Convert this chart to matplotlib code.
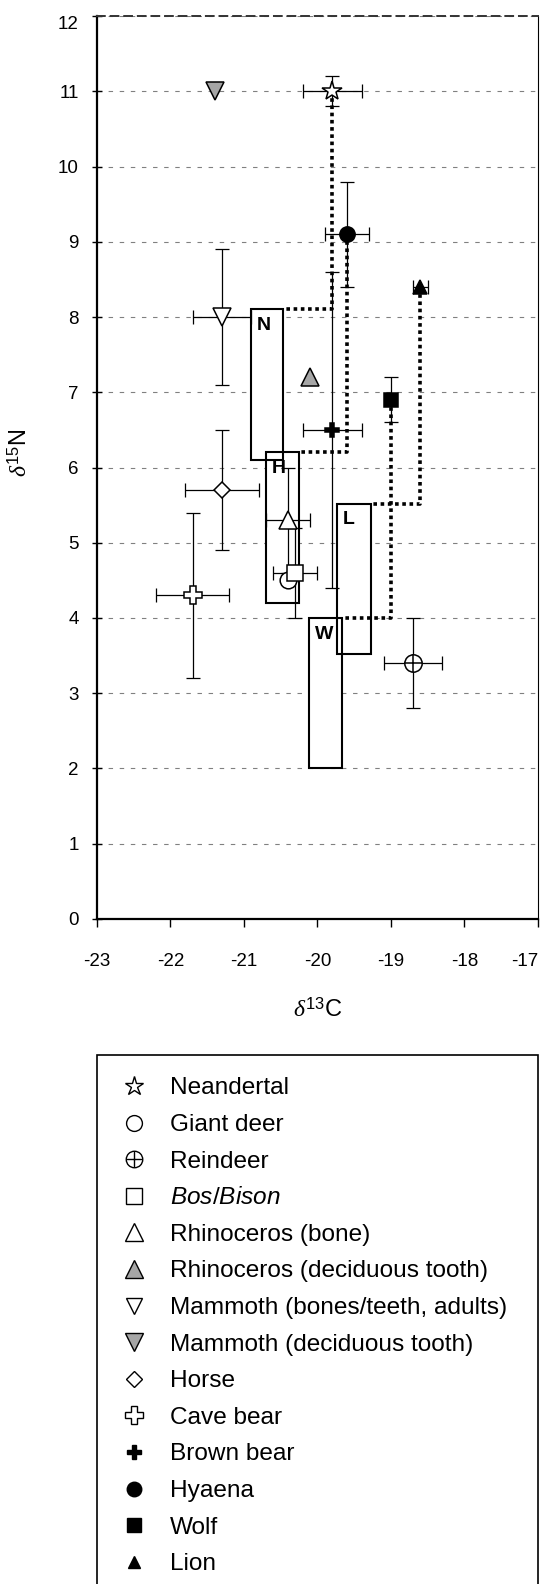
import numpy as np
import matplotlib
matplotlib.use('Agg')
import matplotlib.pyplot as plt
from matplotlib.patches import Rectangle
from matplotlib.lines import Line2D

plt.rcParams['font.family'] = ['Liberation Sans', 'DejaVu Sans']
plt.rcParams['axes.unicode_minus'] = False
plt.rcParams['mathtext.fontset'] = 'custom'
plt.rcParams['mathtext.it'] = 'Liberation Serif:italic'
plt.rcParams['mathtext.rm'] = 'Liberation Sans'
plt.rcParams['mathtext.sf'] = 'Liberation Sans:italic'

# species means and 1 sd
species = ['Neandertal', 'Giant deer', 'Reindeer', 'Bos/Bison', 'Rhinoceros (bone)',
           'Rhinoceros (deciduous tooth)', 'Mammoth (bones/teeth, adults)',
           'Mammoth (deciduous tooth)', 'Horse', 'Cave bear', 'Brown bear',
           'Hyaena', 'Wolf', 'Lion']
d13c = [-19.8, -20.4, -18.7, -20.3, -20.4, -20.1, -21.3, -21.4, -21.3, -21.7, -19.8, -19.6, -19.0, -18.6]
d15n = [11.0, 4.5, 3.4, 4.6, 5.3, 7.2, 8.0, 11.0, 5.7, 4.3, 6.5, 9.1, 6.9, 8.4]
c_err = [0.4, 0, 0.4, 0.3, 0.3, 0, 0.4, 0, 0.5, 0.5, 0.4, 0.3, 0, 0.1]
n_err = [0.2, 0, 0.6, 0.6, 0.7, 0, 0.9, 0, 0.8, 1.1, 2.1, 0.7, 0.3, 0]

# expected prey ranges for the predators
box_labels = ['N', 'H', 'L', 'W']
box_pred = ['Neandertal', 'Hyaena', 'Lion', 'Wolf']
box_x0 = [-20.91, -20.70, -19.73, -20.12]
box_x1 = [-20.47, -20.25, -19.27, -19.67]
box_y0 = [6.1, 4.2, 3.52, 2.0]
box_y1 = [8.1, 6.2, 5.52, 4.0]

legend_labels = list(species)
legend_labels[3] = r'$\mathsf{Bos}$/$\mathsf{Bison}$'

grey = '#a6a6a6'
styles = {
    'Neandertal': dict(marker='*', ms=14.5, mfc='white'),
    'Giant deer': dict(marker='o', ms=12, mfc='white'),
    'Reindeer': dict(marker='o', ms=12.5, mfc='white'),
    'Bos/Bison': dict(marker='s', ms=12, mfc='white'),
    'Rhinoceros (bone)': dict(marker='^', ms=13, mfc='white'),
    'Rhinoceros (deciduous tooth)': dict(marker='^', ms=13, mfc=grey),
    'Mammoth (bones/teeth, adults)': dict(marker='v', ms=12.5, mfc='white'),
    'Mammoth (deciduous tooth)': dict(marker='v', ms=13, mfc=grey),
    'Horse': dict(marker='D', ms=8.5, mfc='white'),
    'Cave bear': dict(marker='P', ms=13, mfc='white'),
    'Brown bear': dict(marker='P', ms=10.5, mfc='black'),
    'Hyaena': dict(marker='o', ms=11, mfc='black'),
    'Wolf': dict(marker='s', ms=10, mfc='black'),
    'Lion': dict(marker='^', ms=9.5, mfc='black'),
}

W, H = 541, 1584
fig = plt.figure(figsize=(W / 100, H / 100), dpi=100)
ax = fig.add_axes([97 / W, 1 - 919 / H, 441 / W, 903 / H])

ax.set_xlim(-23, -17)
ax.set_ylim(0, 12)
ax.set_xticks(np.arange(-23, -16))
ax.set_yticks(np.arange(0, 13))
ax.set_axisbelow(True)
ax.yaxis.grid(True, color='#808080', lw=0.8, linestyle=(0, (4, 6)))

ax.spines['left'].set_linewidth(1.6)
ax.spines['bottom'].set_linewidth(1.6)
ax.spines['right'].set_linewidth(0.8)
ax.spines['top'].set_linewidth(1.4)
ax.spines['top'].set_color('#333333')
ax.spines['top'].set_linestyle((0, (4, 3)))
ax.tick_params(axis='y', direction='inout', length=7.2, width=1, labelsize=13.5, pad=9.4)
ax.tick_params(axis='x', direction='out', length=5.7, width=1, labelsize=13.5, pad=19)
# keep the outer tick labels inside the figure, as the original does
ax.get_xticklabels()[-1].set_horizontalalignment('right')
ax.get_yticklabels()[-1].set_verticalalignment('top')

ax.set_xlabel(r'$\delta^{13}$C', fontsize=17)
ax.xaxis.set_label_coords(0.5, -0.088)
ax.set_ylabel(r'$\delta^{15}$N', fontsize=17)
ax.yaxis.set_label_coords(-0.148, 0.516)

# boxes: white fill first, outlines on top so overlaps stay visible
for i in range(len(box_labels)):
    w = box_x1[i] - box_x0[i]
    h = box_y1[i] - box_y0[i]
    ax.add_patch(Rectangle((box_x0[i], box_y0[i]), w, h, fc='white', ec='none', zorder=1.5))
    ax.add_patch(Rectangle((box_x0[i], box_y0[i]), w, h, fill=False, ec='black', lw=1.5, zorder=2))
    ax.text(box_x0[i] + 0.08, box_y1[i] - 0.1, box_labels[i], fontsize=14, fontweight='bold',
            ha='left', va='top', zorder=2.2)
    k = species.index(box_pred[i])
    ax.plot([d13c[k], d13c[k], box_x1[i]], [d15n[k], box_y1[i], box_y1[i]], color='black',
            lw=2.6, linestyle=(0, (1, 1)), dash_capstyle='butt', zorder=2.5)

for i, sp in enumerate(species):
    if c_err[i] or n_err[i]:
        ax.errorbar(d13c[i], d15n[i], xerr=c_err[i] if c_err[i] else None,
                    yerr=n_err[i] if n_err[i] else None, fmt='none', ecolor='black',
                    elinewidth=0.9, capsize=5, capthick=0.9, zorder=3)
    ax.plot(d13c[i], d15n[i], linestyle='none', color='black', mec='black', mew=1.1,
            zorder=4, **styles[sp])
    if sp == 'Reindeer':
        ax.plot(d13c[i], d15n[i], linestyle='none', marker='+', ms=12.5, mew=1.1,
                color='black', zorder=4.1)

# legend drawn by hand inside an open-bottomed frame
fig.add_artist(Rectangle((97 / W, -0.01), 441 / W, (1 - 1055 / H) + 0.01,
                         transform=fig.transFigure, fill=False, ec='black', lw=1.2))
for i, sp in enumerate(species):
    yf = 1 - (1086 + i * 36.6) / H
    st = dict(styles[sp])
    st['ms'] = st['ms'] * 0.95
    fig.add_artist(Line2D([134 / W], [yf], linestyle='none', color='black', mec='black',
                          mew=1.0, transform=fig.transFigure, **st))
    if sp == 'Reindeer':
        fig.add_artist(Line2D([134 / W], [yf], linestyle='none', marker='+', ms=st['ms'],
                              mew=1.0, color='black', transform=fig.transFigure))
    fig.text(170 / W, yf - 8.5 / H, legend_labels[i], fontsize=17.6, va='baseline', ha='left')

fig.savefig('out.png', dpi=100)
